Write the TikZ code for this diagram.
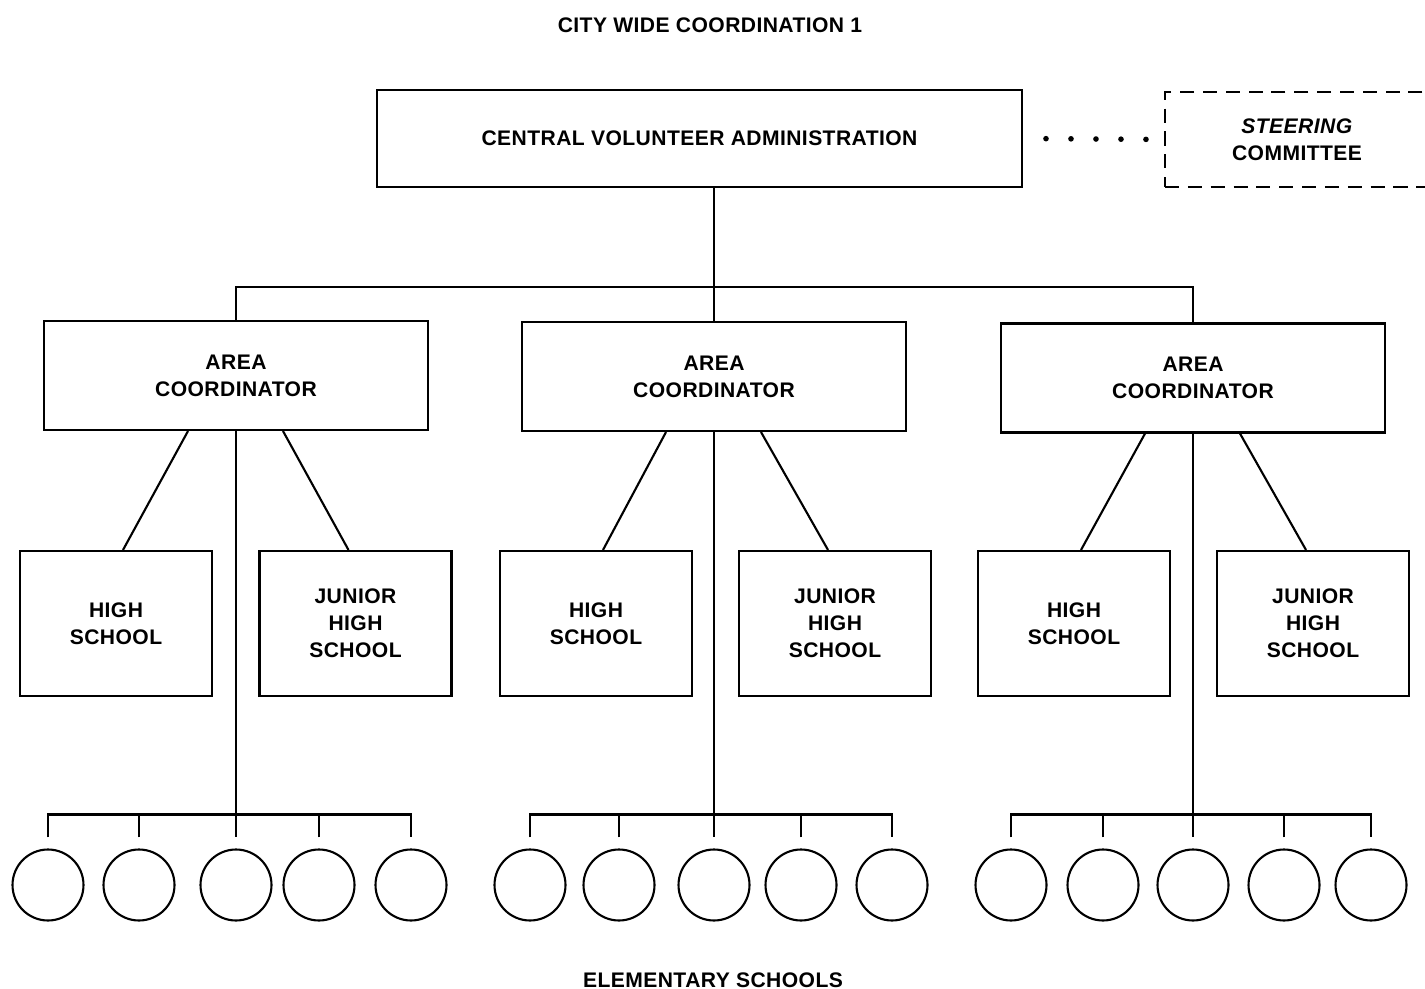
\documentclass[tikz,border=0pt]{standalone}
\usepackage{fontspec}
\setmainfont{Liberation Sans}[LetterSpace=2]
\usetikzlibrary{positioning}

\begin{document}
\begin{tikzpicture}[
            x=0.02cm, y=-0.02cm,
            font=\fontsize{12}{15.3}\selectfont\bfseries,
            box/.style={
                    rectangle, draw, line width=1.2pt,
                    align=center, inner sep=2pt
                },
            centralbox/.style={box, minimum width=12.9cm, minimum height=1.94cm},
            steerbox/.style={box, dash pattern=on 8pt off 5pt, minimum width=5.28cm, minimum height=1.9cm},
            areabox/.style={box, minimum width=7.68cm, minimum height=2.18cm},
            schoolbox/.style={box, minimum width=3.84cm, minimum height=2.9cm},
            elem/.style={circle, draw, line width=1.2pt, minimum size=1.42cm, inner sep=0pt},
            link/.style={draw, line width=1.2pt},
            dotline/.style={draw, line width=3.2pt, line cap=round, dash pattern=on 0pt off 0.5cm, dash phase=0.04cm}
            ]

            \clip (0,0) rectangle (1425,989);

            % ===== Titles =====
            \node (title) at (710,25) {CITY WIDE COORDINATION 1};
            \node[anchor=base, inner sep=0pt] (elemlabel) at (713,987) {ELEMENTARY SCHOOLS};

            % ===== Central administration and steering committee =====
            \node[centralbox] (central) at (699.5,138.5) {CENTRAL VOLUNTEER ADMINISTRATION};
            \node[steerbox] (steering) at (1297,139.5) {\textit{STEERING}\\COMMITTEE};
            \draw[dotline] (central.east) -- (steering.west);

            % ===== Area coordinators and their schools =====
            \foreach \g/\ax/\ay/\hx/\jx in {1/236/375.5/116/355.5, 2/714/376.5/596/835, 3/1193/378/1074/1313}{
                \node[areabox] (area\g) at (\ax,\ay) {AREA\\COORDINATOR};
                \node[schoolbox] (hs\g) at (\hx,623.5) {HIGH\\SCHOOL};
                \node[schoolbox] (jh\g) at (\jx,623.5) {JUNIOR\\HIGH\\SCHOOL};
                \draw[link] ([xshift=-0.96cm]area\g.south) -- ([xshift=0.14cm]hs\g.north);
                \draw[link] ([xshift=0.94cm]area\g.south) -- ([xshift=-0.14cm]jh\g.north);
            }

            % ===== Central -> areas =====
            \coordinate (topbus) at (714,287);
            \draw[link] (central.south -| area2.north) -- (area2.north);
            \draw[link] (area1.north) |- (topbus) -| (area3.north);

            % ===== Elementary schools =====
            \foreach \g/\xa/\xb/\xc/\xd/\xe in {1/48/139/236/319/411, 2/530/619/714/801/892, 3/1011/1103/1193/1284/1371}{
                \foreach \i/\x in {1/\xa,2/\xb,3/\xc,4/\xd,5/\xe}
                \node[elem] (es\g-\i) at (\x,885) {};
                \draw[link] (area\g.south) -- ([yshift=0.22cm]es\g-3.north);
                \draw[link] ([yshift=0.22cm]es\g-1.north) -- ++(0,-23) -| ([yshift=0.22cm]es\g-5.north);
                \draw[link] ([yshift=0.22cm]es\g-2.north) -- ++(0,-23);
                \draw[link] ([yshift=0.22cm]es\g-4.north) -- ++(0,-23);
            }

        \end{tikzpicture}
\end{document}
